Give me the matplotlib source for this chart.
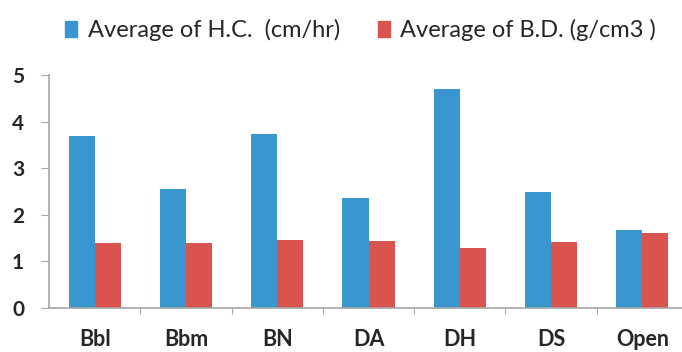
import numpy as np
import matplotlib
matplotlib.use("Agg")
import matplotlib.pyplot as plt
from matplotlib.patches import Patch

sites = ["Bbl", "Bbm", "BN", "DA", "DH", "DS", "Open"]
hc = [3.68, 2.55, 3.74, 2.35, 4.69, 2.49, 1.66]   # cm/hr
bd = [1.38, 1.38, 1.45, 1.44, 1.29, 1.41, 1.60]   # g/cm3
yticks = [0, 1, 2, 3, 4, 5]

blue = "#3A96CE"
red = "#D9544F"
axis_grey = "#A6A6A6"
txt = "#262626"

plt.rcParams["font.family"] = ["Lato", "DejaVu Sans"]

fig = plt.figure(figsize=(6.82, 3.52), dpi=100)
ax = fig.add_axes([49 / 682, 44.3 / 352, 639 / 682, 232.7 / 352])

x = np.arange(len(sites))
w = 1 / 3.5
ax.bar(x - w / 2, hc, w, color=blue)
ax.bar(x + w / 2, bd, w, color=red)

ax.set_xlim(-0.5, len(sites) - 0.5)
ax.set_ylim(0, 5)
ax.set_yticks(yticks)
ax.set_yticklabels([str(t) for t in yticks], fontsize=15, fontweight="bold", color=txt)

# category ticks sit on the boundaries, labels in the middle
ax.set_xticks(x[:-1] + 0.5)
ax.set_xticklabels([])
ax.set_xticks(x, minor=True)
ax.set_xticklabels(sites, minor=True, fontsize=15.5, fontweight="bold", color=txt)
ax.tick_params(axis="x", which="major", length=4, color=axis_grey, direction="out")
ax.tick_params(axis="x", which="minor", length=0, pad=15)
ax.tick_params(axis="y", length=6, color=axis_grey, direction="out", pad=12)

for s in ["top", "right"]:
    ax.spines[s].set_visible(False)
for s in ["left", "bottom"]:
    ax.spines[s].set_color(axis_grey)
    ax.spines[s].set_linewidth(1.2)

handles = [Patch(color=blue), Patch(color=red)]
labels = ["Average of H.C.  (cm/hr)", "Average of B.D. (g/cm3 )"]
fig.legend(handles, labels, loc="upper left", bbox_to_anchor=(44 / 682, 1 + 2 / 352),
           ncol=2, frameon=False, fontsize=17, handlelength=0.5, handleheight=0.65,
           handletextpad=0.45, columnspacing=1.6, labelcolor=txt)

fig.savefig("out.png", dpi=100)
